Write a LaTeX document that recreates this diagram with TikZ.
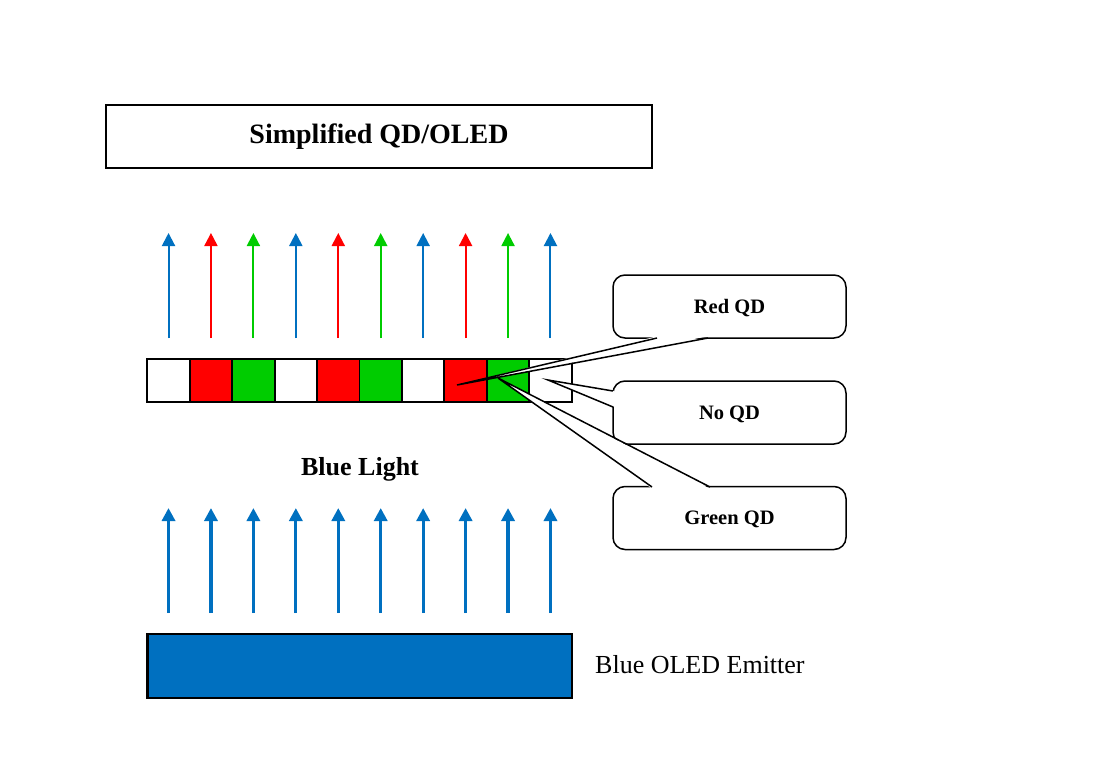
\documentclass[tikz,border=0pt]{standalone}
\usepackage{fontspec}
\setmainfont{Liberation Serif}
\usetikzlibrary{arrows.meta}
\definecolor{oledblue}{HTML}{0070C0}
\definecolor{qdred}{HTML}{FF0000}
\definecolor{qdgreen}{HTML}{00CC00}
\begin{document}
\begin{tikzpicture}[x=1pt,y=-1pt,
  cell/.style={draw=black, line width=1.8pt, minimum width=42.44pt, minimum height=42.4pt, inner sep=0pt, outer sep=0pt},
  lightarrow/.style={line width=2pt, -{Triangle[width=13pt,length=13pt]}},
  bluearrow/.style={line width=3.3pt, draw=oledblue, -{Triangle[width=13pt,length=13pt]}},
  callout/.style={draw=black, fill=white, rounded corners=12pt, line width=1.5pt, minimum width=233pt, minimum height=63pt, inner sep=0pt, text height=13.8pt, text depth=0pt, font=\fontsize{20.5}{24}\selectfont\bfseries},
  pointerline/.style={draw=black, line width=1.5pt},
  titlebox/.style={draw=black, line width=1.5pt, minimum width=546pt, minimum height=63pt, inner sep=0pt, font=\fontsize{28}{32}\selectfont\bfseries},
  label/.style={inner sep=0pt, font=\fontsize{26}{30}\selectfont}
]
\useasboundingbox (0,0) rectangle (1100,763);

% title
\node[titlebox] (title) at (379,136.5) {Simplified QD/OLED};

% QD strip
\foreach \i/\c in {0/white,1/qdred,2/qdgreen,3/white,4/qdred,5/qdgreen,6/white,7/qdred,8/qdgreen,9/white}{
  \node[cell, fill=\c] (c\i) at ({147.3+42.44*(\i+0.5)},380.5) {};
}
\draw[line width=2.2pt] (c0.north west) rectangle (c9.south east);

% emitted arrows above the strip
\foreach \i/\c in {0/oledblue,1/qdred,2/qdgreen,3/oledblue,4/qdred,5/qdgreen,6/oledblue,7/qdred,8/qdgreen,9/oledblue}{
  \coordinate (ub\i) at ({147.3+42.44*(\i+0.5)},338);
  \coordinate (ut\i) at ({147.3+42.44*(\i+0.5)},233);
  \draw[lightarrow, draw=\c, fill=\c] (ub\i) -- (ut\i);
}

% blue light arrows
\foreach \i in {0,...,9}{
  \coordinate (lb\i) at ({147.3+42.44*(\i+0.5)},613);
  \coordinate (lt\i) at ({147.3+42.44*(\i+0.5)},508);
  \draw[bluearrow, fill=oledblue] (lb\i) -- (lt\i);
}

\node[label, font=\fontsize{26}{30}\selectfont\bfseries] (bluelight) at (360,469) {Blue Light};

% emitter
\node[draw=black, line width=2.4pt, fill=oledblue, minimum width=424.4pt, minimum height=64pt, inner sep=0pt] (emitter) at (359.5,666) {};
\node[label, anchor=west] (emitterlabel) at (595,665) {Blue OLED Emitter};

% Red QD callout
\node[callout] (redqd) at (729.5,306.5) {Red QD};
\coordinate (rtip) at (457,385);
\coordinate (ra) at (657,338);
\coordinate (rb) at (708,338);
\fill[white] (657,336.3) -- (rtip) -- (708,336.3) -- cycle;
\draw[pointerline] (ra) -- (rtip) -- (rb);

% No QD callout
\node[callout] (noqd) at (729.5,412.5) {No QD};
\coordinate (ntip) at (548,380);
\coordinate (na) at (613,391);
\coordinate (nb) at (613,407);
\fill[white] (614.7,391) -- (ntip) -- (614.7,407) -- cycle;
\draw[pointerline] (na) -- (ntip) -- (nb);

% Green QD callout
\node[callout] (greenqd) at (729.5,518) {Green QD};
\coordinate (gtip) at (498,378);
\coordinate (ga) at (652,487);
\coordinate (gb) at (710,487);
\fill[white] (652,488.7) -- (gtip) -- (710,488.7) -- cycle;
\draw[pointerline] (ga) -- (gtip) -- (gb);
\end{tikzpicture}
\end{document}
